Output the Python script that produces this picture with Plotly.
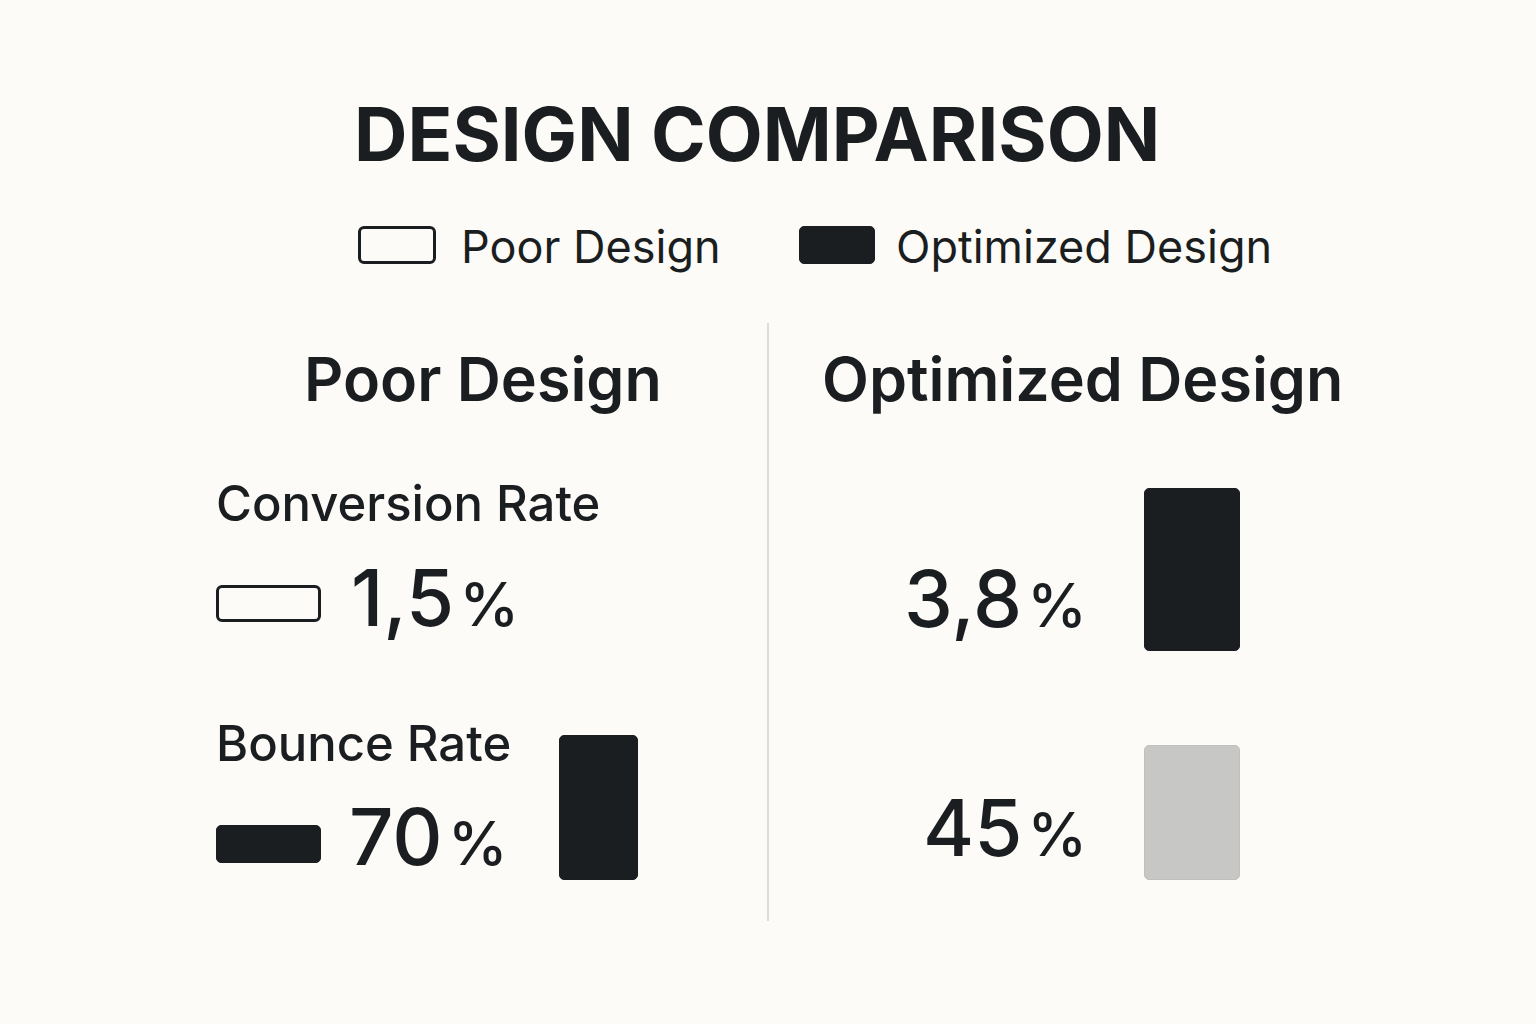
import plotly.graph_objects as go

# ---------------- data ----------------
title_text = "DESIGN COMPARISON"
series_names = ["Poor Design", "Optimized Design"]
metric_names = ["Conversion Rate", "Bounce Rate"]
poor_values = [1.5, 70]          # %
optimized_values = [3.8, 45]     # %

# ---------------- styles / layout constants ----------------
W, H = 1536, 1024
BG = "#FCFBF7"
DARK = "#1B1E21"
GREY_BAR = "#C7C7C5"
DIVIDER = "#DCDCDA"
FONT = "Inter"

def fmt(v):
    return f"{v:g}".replace(".", ",")

def value_text(v, big, small):
    return (f"<span style='font-size:{big}px'>{fmt(v)}</span>"
            f"<span style='font-size:{small}px'>\u200a%</span>")

fig = go.Figure()

# bar glyph geometry (decorative sizes, in pixel-like axis units)
leg_x = [397.5, 837.5]
leg_w = [75, 75]
leg_top = [228, 227]
leg_h = [35, 37]
poor_small_x = [269, 269]
poor_small_w = [102, 104]
poor_small_top = [587, 826]
poor_small_h = [34, 37]
poor_tall = dict(x=599, w=78, top=736, h=144)
opt_x = [1192.5, 1192.5]
opt_w = [95, 95]
opt_top = [489, 746]
opt_h = [162, 134]

def add_bar(x, w, top, h, fill, line_color, line_width, name):
    fig.add_trace(go.Bar(
        x=x, y=h, base=top, width=w, name=name,
        marker=dict(color=fill, line=dict(color=line_color, width=line_width)),
        hoverinfo="skip", showlegend=False,
    ))

# legend swatches
add_bar([leg_x[0]], [leg_w[0]], [leg_top[0]], [leg_h[0]], BG, DARK, 3, series_names[0])
add_bar([leg_x[1]], [leg_w[1]], [leg_top[1]], [leg_h[1]], DARK, DARK, 1, series_names[1])
# poor design glyphs
add_bar([poor_small_x[0]], [poor_small_w[0]], [poor_small_top[0]], [poor_small_h[0]], BG, DARK, 3, series_names[0])
add_bar([poor_small_x[1]], [poor_small_w[1]], [poor_small_top[1]], [poor_small_h[1]], DARK, DARK, 1, series_names[0])
add_bar([poor_tall["x"]], [poor_tall["w"]], [poor_tall["top"]], [poor_tall["h"]], DARK, DARK, 1, series_names[0])
# optimized design bars
add_bar([opt_x[0]], [opt_w[0]], [opt_top[0]], [opt_h[0]], DARK, DARK, 1, series_names[1])
add_bar([opt_x[1]], [opt_w[1]], [opt_top[1]], [opt_h[1]], GREY_BAR, "#C0C0BE", 1, series_names[1])

ann = []
def text(x, y, s, size, weight=400, xanchor="left"):
    ann.append(dict(x=x, y=y, xref="x", yref="y", text=s, showarrow=False,
                    xanchor=xanchor, yanchor="middle",
                    font=dict(family=FONT, size=size, color=DARK, weight=weight)))

# title
text(757, 134, title_text, 74, 700, "center")
# legend labels
text(459, 246, series_names[0], 45, 400)
text(894, 246, series_names[1], 45, 400)
# section headings
text(483, 379, series_names[0], 61, 600, "center")
text(1082, 379, series_names[1], 61, 600, "center")
# metric labels
text(214, 503, metric_names[0], 49, 500)
text(214, 743, metric_names[1], 49, 500)
# values
text(349, 597, value_text(poor_values[0], 78, 60), 78, 500)
text(347, 836, value_text(poor_values[1], 78, 60), 78, 500)
text(1089, 598, value_text(optimized_values[0], 78, 60), 78, 500, "right")
text(1089, 827, value_text(optimized_values[1], 78, 60), 78, 500, "right")

fig.update_layout(
    width=W, height=H,
    margin=dict(l=0, r=0, t=0, b=0),
    paper_bgcolor=BG, plot_bgcolor=BG,
    barmode="overlay", barcornerradius=5, bargap=0,
    xaxis=dict(range=[0, W], visible=False, fixedrange=True),
    yaxis=dict(range=[H, 0], visible=False, fixedrange=True),
    annotations=ann,
    shapes=[dict(type="line", xref="x", yref="y", x0=768, x1=768, y0=323, y1=921,
                 line=dict(color=DIVIDER, width=2))],
    showlegend=False,
)

fig.write_html("out.html", config={"displayModeBar": False})
